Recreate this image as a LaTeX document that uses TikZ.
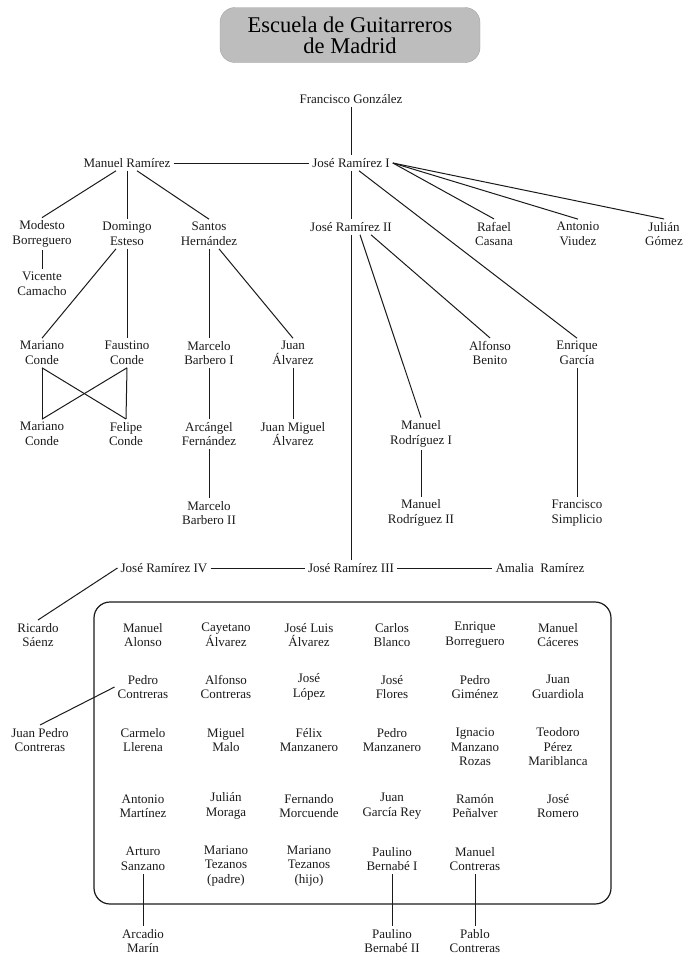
\documentclass[tikz,border=0pt]{standalone}
\usepackage{fontspec}
\setmainfont{Liberation Serif}
\definecolor{egtitle}{HTML}{BDBDBD}
\definecolor{egink}{HTML}{1A1A1A}

\begin{document}
\begin{tikzpicture}[x=1pt, y=-1pt,
  font=\fontsize{13}{14.5}\selectfont,
  luthier/.style={align=center, inner sep=3pt, text=egink},
  link/.style={draw=egink, line width=1pt},
  banner/.style={fill=egtitle, draw=egtitle!85!black, rounded corners=15pt, minimum width=260pt, minimum height=55pt, align=center, font=\fontsize{22.5}{21}\selectfont}
]
\useasboundingbox (0,0) rectangle (690,961);
% ---------- title ----------
\node[banner] (title) at (350,35) {Escuela de Guitarreros\\ de Madrid};
% ---------- founders ----------
\node[luthier] (fg) at (351,99) {Francisco González};
\node[luthier] (mr) at (127,163) {Manuel Ramírez};
\node[luthier] (jr1) at (351,163) {José Ramírez I};
\draw[link] (fg) -- (jr1);
\draw[link] (mr) -- (jr1);
% ---------- Manuel Ramírez branch ----------
\node[luthier] (mbo) at (42,234) {Modesto\\ Borreguero};
\node[luthier] (des) at (127,234) {Domingo\\ Esteso};
\node[luthier] (sh) at (209,234) {Santos\\ Hernández};
\node[luthier] (vc) at (42,284) {Vicente\\ Camacho};
\node[luthier] (mc1) at (42,353) {Mariano\\ Conde};
\node[luthier] (fc) at (127,353) {Faustino\\ Conde};
\node[luthier] (mb1) at (209,353) {Marcelo\\ Barbero I};
\node[luthier] (ja) at (293,353) {Juan\\ Álvarez};
\node[luthier] (mc2) at (42,434) {Mariano\\ Conde};
\node[luthier] (fec) at (126,434) {Felipe\\ Conde};
\node[luthier] (af) at (209,434) {Arcángel\\ Fernández};
\node[luthier] (jma) at (293,434) {Juan Miguel\\ Álvarez};
\node[luthier] (mb2) at (209,513) {Marcelo\\ Barbero II};
\draw[link] ([xshift=-11pt]mr.south) -- (mbo.north);
\draw[link] (mr.south) -- (des.north);
\draw[link] ([xshift=10pt]mr.south) -- (sh.north);
\draw[link] (mbo.south) -- (vc.north);
\draw[link] ([xshift=-11pt]des.south) -- (mc1.north);
\draw[link] (des.south) -- (fc.north);
\draw[link] (sh.south) -- (mb1.north);
\draw[link] ([xshift=10pt]sh.south) -- (ja.north);
\draw[link] (mc1.south) -- (mc2.north);
\draw[link] (fc.south) -- (fec.north);
\draw[link] (mc1.south) -- (fec.north);
\draw[link] (fc.south) -- (mc2.north);
\draw[link] (mb1.south) -- (af.north);
\draw[link] (af.south) -- (mb2.north);
\draw[link] (ja.south) -- (jma.north);
% ---------- José Ramírez I branch ----------
\node[luthier] (jr2) at (351,227) {José Ramírez II};
\node[luthier] (rc) at (494,234) {Rafael\\ Casana};
\node[luthier] (av) at (578,234) {Antonio\\ Viudez};
\node[luthier] (jg) at (664,234) {Julián\\ Gómez};
\node[luthier] (ab) at (490,353) {Alfonso\\ Benito};
\node[luthier] (eg) at (577,353) {Enrique\\ García};
\node[luthier] (mro1) at (421,434) {Manuel\\ Rodríguez I};
\node[luthier] (mro2) at (421,513) {Manuel\\ Rodríguez II};
\node[luthier] (fs) at (577,513) {Francisco\\ Simplicio};
\draw[link] (jr1.south) -- (jr2.north);
\draw[link] ([xshift=8pt]jr1.south) -- (eg.north);
\foreach \t in {rc,av,jg}
  \draw[link] (jr1.east) -- (\t.north);
\draw[link] ([xshift=9pt]jr2.south) -- (mro1.north);
\draw[link] ([xshift=20pt]jr2.south) -- (ab.north);
\draw[link] (mro1.south) -- (mro2.north);
\draw[link] (eg.south) -- (fs.north);
% ---------- José Ramírez III ----------
\node[luthier] (jr3) at (351,568) {José Ramírez III};
\node[luthier] (jr4) at (164,568) {José Ramírez IV};
\node[luthier] (ar) at (540,568) {Amalia\ \ Ramírez};
\node[luthier] (rs) at (38,635) {Ricardo\\ Sáenz};
\draw[link] (jr2.south) -- (jr3.north);
\draw[link] (jr4) -- (jr3);
\draw[link] (jr3) -- (ar);
\draw[link] (jr4.west) -- (rs.north);
% ---------- workshop ----------
\draw[egink, line width=1.2pt, rounded corners=16pt] (94,602) rectangle (611,904);
\foreach \x/\y/\n/\t in {
  143/635/mal/{Manuel\\ Alonso}, 226/635/caa/{Cayetano\\ Álvarez}, 309/635/jla/{José Luis\\ Álvarez},
  392/635/cbl/{Carlos\\ Blanco}, 475/635/ebo/{Enrique\\ Borreguero}, 558/635/mca/{Manuel\\ Cáceres},
  143/687/pco/{Pedro\\ Contreras}, 226/687/aco/{Alfonso\\ Contreras}, 309/687/jlo/{José\\ López},
  392/687/jfl/{José\\ Flores}, 475/687/pgi/{Pedro\\ Giménez}, 558/687/jgu/{Juan\\ Guardiola},
  143/740/cll/{Carmelo\\ Llerena}, 226/740/mma/{Miguel\\ Malo}, 309/740/fma/{Félix\\ Manzanero},
  392/740/pma/{Pedro\\ Manzanero}, 475/747/imr/{Ignacio\\ Manzano\\ Rozas}, 558/747/tpm/{Teodoro\\ Pérez\\ Mariblanca},
  143/806/ama/{Antonio\\ Martínez}, 226/806/jmo/{Julián\\ Moraga}, 309/806/fmo/{Fernando\\ Morcuende},
  392/806/jgr/{Juan\\ García Rey}, 475/806/rpe/{Ramón\\ Peñalver}, 558/806/jro/{José\\ Romero},
  143/859/asa/{Arturo\\ Sanzano}, 226/866/mtp/{Mariano\\ Tezanos\\ (padre)}, 309/866/mth/{Mariano\\ Tezanos\\ (hijo)},
  392/859/pb1/{Paulino\\ Bernabé I}, 475/859/mco/{Manuel\\ Contreras}}
  \node[luthier] (\n) at (\x,\y) {\t};
% ---------- pupils outside the workshop ----------
\node[luthier] (jpc) at (40,740) {Juan Pedro\\ Contreras};
\node[luthier] (amr) at (143,941) {Arcadio\\ Marín};
\node[luthier] (pb2) at (392,941) {Paulino\\ Bernabé II};
\node[luthier] (pac) at (475,941) {Pablo\\ Contreras};
\draw[link] (pco.west) -- (jpc.north);
\draw[link] (asa.south) -- (amr.north);
\draw[link] (pb1.south) -- (pb2.north);
\draw[link] (mco.south) -- (pac.north);
\end{tikzpicture}
\end{document}
